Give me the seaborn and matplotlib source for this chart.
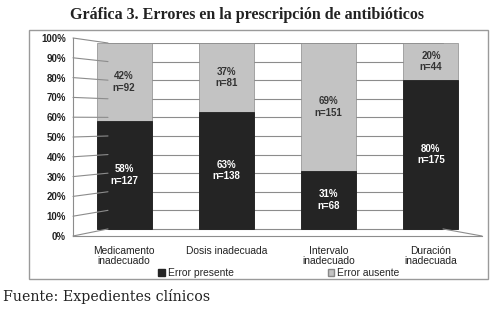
import numpy as np
import pandas as pd
import seaborn as sns
import matplotlib.pyplot as plt
from matplotlib.patches import ConnectionPatch, Rectangle, Patch

# %% Data
categories = ['Medicamento\ninadecuado', 'Dosis inadecuada',
              'Intervalo\ninadecuado', 'Duración\ninadecuada']
pct_present = [58, 63, 31, 80]
pct_absent = [42, 37, 69, 20]
n_present = [127, 138, 68, 175]
n_absent = [92, 81, 151, 44]
y_ticks = list(range(0, 101, 10))

dark = '#242424'
light = '#c3c3c3'
grid_c = '#8c8c8c'

df = pd.DataFrame({'cat': categories, 'present': pct_present,
                   'absent': pct_absent, 'n_p': n_present, 'n_a': n_absent})
df['total'] = df['present'] + df['absent']

# %% Figure
sns.set_style('white')
plt.rcParams['font.family'] = ['Liberation Sans', 'DejaVu Sans']

W, H = 495, 310
fig = plt.figure(figsize=(W / 100, H / 100), dpi=100)

# outer chart border
fig.add_artist(Rectangle((29 / W, 1 - 279 / H), (488 - 29) / W, (279 - 30) / H,
                         transform=fig.transFigure, fill=False,
                         edgecolor='#9a9a9a', lw=1.0))

# main axes: bars (back wall scale)
ax = fig.add_axes([73 / W, (H - 236) / H, (482 - 73) / W, (236 - 43) / H])
ax.patch.set_visible(False)

gx0, gx1 = (108 - 73) / 409, (443 - 73) / 409
for v in y_ticks:
    ax.axhline(v, xmin=gx0, xmax=gx1, color=grid_c, lw=0.8, zorder=0)

sns.barplot(df, x='cat', y='total', color=light, width=0.54, ax=ax,
            edgecolor='#8a8a8a', linewidth=0.5, saturation=1, zorder=2)
sns.barplot(df, x='cat', y='present', color=dark, width=0.54, ax=ax,
            edgecolor='#111111', linewidth=0.5, saturation=1, zorder=3)

ax.set_ylim(-3.8, 100)
ax.set_xlim(-0.5, 3.5)
ax.set_xlabel('')
ax.set_ylabel('')
ax.set_yticks([])
ax.set_xticks(range(len(categories)))
ax.set_xticklabels(categories, fontsize=7.4, color='#222222', linespacing=1.0)
ax.set_xticks([0.5, 1.5, 2.5], minor=True)
ax.tick_params(axis='x', which='major', length=0, pad=7)
ax.tick_params(axis='x', which='minor', length=3, color='#8c8c8c', direction='out')
for s in ['left', 'top', 'right']:
    ax.spines[s].set_visible(False)
ax.spines['bottom'].set_color('#8c8c8c')
ax.spines['bottom'].set_linewidth(0.8)

# right floor diagonal
fig.add_artist(ConnectionPatch(xyA=(gx1, 0), coordsA=ax.get_yaxis_transform(),
                               xyB=(1.0, -3.8), coordsB=ax.get_yaxis_transform(),
                               color=grid_c, lw=0.8))

# labels in segments
for i, r in df.iterrows():
    ax.text(i, r['present'] / 2, f"{r['present']}%\nn={r['n_p']}",
            ha='center', va='center', color='white', fontsize=7,
            fontweight='bold', linespacing=1.2, zorder=5)
    ax.text(i, r['present'] + r['absent'] / 2, f"{r['absent']}%\nn={r['n_a']}",
            ha='center', va='center', color='#333333', fontsize=7,
            fontweight='bold', linespacing=1.2, zorder=5)

# front value axis
axf = fig.add_axes([73 / W, (H - 236) / H, 0.001, (236 - 38) / H])
axf.patch.set_visible(False)
axf.set_ylim(0, 100)
axf.set_xticks([])
axf.set_yticks(y_ticks)
axf.set_yticklabels([f'{v}%' for v in y_ticks], fontsize=7, fontweight='bold',
                    color='#222222')
axf.tick_params(axis='y', length=3, color='#8c8c8c', pad=2)
for s in ['top', 'right', 'bottom']:
    axf.spines[s].set_visible(False)
axf.spines['left'].set_color('#8c8c8c')
axf.spines['left'].set_linewidth(0.8)

for v in y_ticks:
    fig.add_artist(ConnectionPatch(xyA=(0, v), coordsA=axf.get_yaxis_transform(),
                                   xyB=(gx0, v), coordsB=ax.get_yaxis_transform(),
                                   color=grid_c, lw=0.8))

# legend
handles = [Patch(facecolor=dark, edgecolor=dark, label='Error presente'),
           Patch(facecolor=light, edgecolor='#888888', label='Error ausente')]
fig.legend(handles=handles, ncol=2, loc='center', bbox_to_anchor=(279 / W, 1 - 273 / H),
           frameon=False, fontsize=7.4, handlelength=0.6, handleheight=0.6,
           handletextpad=0.3, columnspacing=9.2, borderpad=0)

# title and source
fig.text(247 / W, 1 - 15 / H, 'Gráfica 3. Errores en la prescripción de antibióticos',
         ha='center', va='center', fontsize=11.5, fontweight='bold',
         family=['Liberation Serif', 'DejaVu Serif'], color='#222222')
fig.text(3 / W, 1 - 297 / H, 'Fuente: Expedientes clínicos', ha='left', va='center',
         fontsize=10.2, family=['DejaVu Serif'], color='#222222')

fig.savefig('out.png', dpi=100)
